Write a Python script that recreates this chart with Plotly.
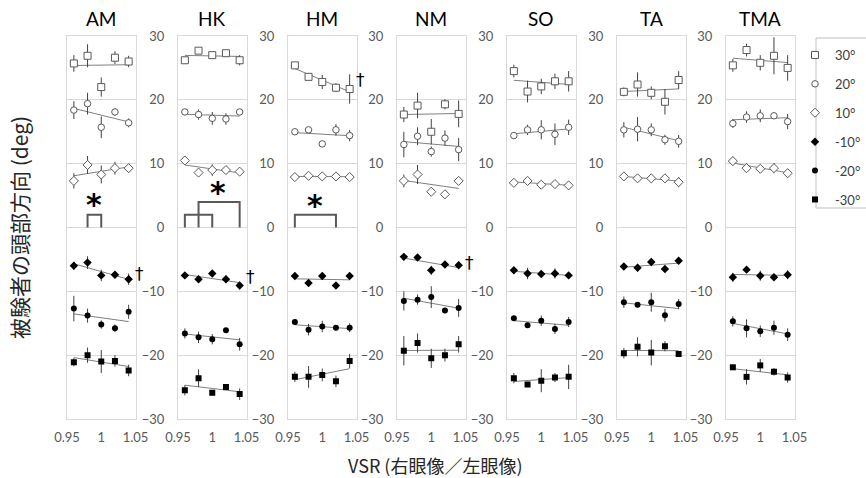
import numpy as np
import plotly.graph_objects as go

# ---------------- data ----------------
VSR = [0.96, 0.98, 1.00, 1.02, 1.04]
PANELS = ["AM", "HK", "HM", "NM", "SO", "TA", "TMA"]
SERIES = ["30°", "20°", "10°", "-10°", "-20°", "-30°"]

AM_MEAN = [[25.7, 26.9, 22.0, 26.6, 26.0], [18.4, 19.4, 15.7, 18.1, 16.4], [7.3, 9.8, 8.3, 9.3, 9.3],
           [-6.0, -5.5, -7.5, -7.4, -8.1], [-12.7, -13.8, -15.2, -15.8, -13.2], [-21.1, -20.0, -21.0, -20.9, -22.4]]
AM_ERR = [[1.3, 1.8, 1.5, 1.0, 0.9], [1.4, 1.7, 1.7, 0.6, 0.7], [1.2, 1.4, 1.4, 1.0, 0.65],
          [0.6, 1.0, 0.9, 0.5, 0.9], [2.0, 1.1, 0.65, 0.6, 1.1], [0.65, 1.2, 1.8, 0.9, 0.9]]

HK_MEAN = [[26.2, 27.7, 27.0, 27.3, 26.2], [18.1, 17.7, 17.1, 17.0, 18.1], [10.5, 8.6, 9.0, 9.0, 8.75],
           [-7.5, -8.1, -7.2, -8.1, -9.1], [-16.6, -17.2, -17.5, -16.1, -18.3], [-25.5, -23.6, -25.9, -25.0, -26.1]]
HK_ERR = [[0.4, 0.3, 0.4, 0.4, 0.8], [0.4, 0.8, 1.0, 0.9, 0.3], [0.3, 0.3, 0.9, 0.4, 0.6],
          [0.4, 0.5, 0.4, 0.6, 0.6], [0.8, 0.9, 0.8, 0.3, 1.0], [0.8, 1.4, 0.4, 0.4, 0.9]]

HM_MEAN = [[25.4, 23.6, 22.8, 21.9, 21.7], [15.0, 15.3, 13.1, 15.3, 14.4], [7.9, 8.1, 8.0, 8.0, 7.9],
           [-7.6, -8.7, -7.6, -9.1, -7.6], [-14.8, -16.0, -15.5, -15.7, -15.7], [-23.4, -23.4, -23.1, -24.1, -20.9]]
HM_ERR = [[0.3, 0.4, 1.1, 0.7, 2.3], [0.3, 0.4, 0.4, 0.9, 0.9], [0.3, 0.4, 0.5, 0.5, 0.5],
          [0.4, 0.3, 0.5, 0.3, 0.5], [0.3, 0.9, 0.9, 0.4, 0.7], [0.8, 1.7, 1.0, 0.9, 1.1]]

NM_MEAN = [[17.7, 19.1, 15.0, 19.3, 17.8], [13.0, 14.3, 11.9, 14.0, 12.2], [7.3, 8.3, 5.6, 5.2, 7.3],
           [-4.6, -4.7, -6.7, -5.8, -5.9], [-11.5, -11.3, -10.9, -13.0, -12.6], [-19.3, -18.1, -20.5, -20.0, -18.3]]
NM_ERR = [[1.2, 2.0, 2.0, 0.8, 2.1], [2.0, 1.4, 0.8, 1.2, 1.8], [1.0, 1.5, 0.3, 0.3, 0.6],
          [0.4, 0.4, 0.7, 0.4, 0.6], [1.5, 0.8, 1.7, 0.4, 1.4], [2.3, 1.5, 1.5, 1.0, 1.3]]

SO_MEAN = [[24.5, 21.3, 22.1, 22.9, 22.9], [14.4, 15.3, 15.3, 14.6, 15.7], [7.0, 7.3, 6.7, 6.8, 6.6],
           [-6.7, -7.2, -7.3, -7.2, -7.5], [-14.2, -15.3, -14.6, -15.9, -14.8], [-23.6, -24.6, -24.0, -23.5, -23.4]]
SO_ERR = [[1.0, 1.7, 1.2, 1.2, 1.6], [0.4, 0.8, 1.5, 1.7, 1.2], [0.6, 0.4, 0.4, 0.4, 0.6],
          [0.4, 0.9, 0.4, 0.8, 0.4], [0.3, 0.3, 0.8, 0.8, 0.8], [0.8, 0.3, 1.8, 0.7, 1.9]]

TA_MEAN = [[21.25, 22.4, 21.1, 19.7, 23.1], [15.3, 15.4, 15.3, 13.75, 13.5], [8.0, 7.7, 7.7, 7.7, 7.1],
           [-6.1, -6.3, -5.4, -6.5, -5.2], [-11.7, -12.1, -11.7, -13.75, -12.0], [-19.7, -18.7, -19.6, -18.6, -19.8]]
TA_ERR = [[0.7, 1.9, 1.0, 2.0, 1.4], [1.2, 1.9, 1.0, 0.8, 1.0], [0.3, 0.3, 0.5, 0.3, 0.8],
          [0.4, 0.6, 0.5, 0.5, 0.4], [0.9, 0.3, 1.5, 1.0, 0.8], [0.8, 1.5, 2.0, 0.8, 0.3]]

TMA_MEAN = [[25.4, 27.8, 25.8, 26.9, 25.0], [16.3, 17.3, 17.5, 17.5, 16.6], [10.4, 9.3, 9.2, 9.3, 8.5],
            [-7.8, -6.6, -7.55, -7.8, -7.4], [-14.7, -15.8, -16.25, -15.7, -16.8], [-21.9, -23.4, -21.6, -22.6, -23.5]]
TMA_ERR = [[1.0, 1.0, 1.2, 2.9, 2.0], [0.7, 0.9, 1.0, 0.4, 1.2], [0.7, 0.7, 0.4, 0.8, 0.7],
           [0.7, 0.3, 0.8, 0.3, 0.7], [0.8, 1.4, 0.9, 1.1, 1.0], [0.4, 1.2, 1.0, 0.6, 0.8]]

MEANS = [AM_MEAN, HK_MEAN, HM_MEAN, NM_MEAN, SO_MEAN, TA_MEAN, TMA_MEAN]
ERRS = [AM_ERR, HK_ERR, HM_ERR, NM_ERR, SO_ERR, TA_ERR, TMA_ERR]

X_TICKS = [0.95, 1.0, 1.05]
X_TICK_TEXT = ["0.95", "1", "1.05"]
Y_TICKS = [-30, -20, -10, 0, 10, 20, 30]

# significance brackets: (panel index, x start, x end, height)
BRACKETS = [(0, 0.98, 1.00, 2), (1, 0.96, 1.00, 2), (1, 0.98, 1.04, 4), (2, 0.96, 1.02, 2)]
# asterisks: (panel index, x, y)
STARS = [(0, 0.99, 3.6), (1, 1.008, 5.5), (2, 0.99, 3.4)]
# daggers: (panel index, y)
DAGGERS = [(0, -7.3), (1, -7.8), (2, 23.1), (3, -5.6)]

# ---------------- style ----------------
W, H = 866, 478
PANEL_LEFT = [67, 178, 288, 397, 507, 617, 726]
PANEL_W = 68.5
Y_TOP, Y_BOT = 36, 419
MARKERS = [
    dict(symbol="square", color="white", size=7, line=dict(color="#595959", width=1)),
    dict(symbol="circle", color="white", size=6.5, line=dict(color="#595959", width=1)),
    dict(symbol="diamond", color="white", size=7, line=dict(color="#595959", width=1)),
    dict(symbol="diamond", color="black", size=6.5, line=dict(color="black", width=0)),
    dict(symbol="circle", color="black", size=6, line=dict(color="black", width=0)),
    dict(symbol="square", color="black", size=6, line=dict(color="black", width=0)),
]
TICK_FONT = dict(family="Lato, Liberation Sans, sans-serif", size=13, color="#595959")

fig = go.Figure()
layout = {}
annotations = []

for p, name in enumerate(PANELS):
    sfx = "" if p == 0 else str(p + 1)
    xa, ya = "x" + sfx, "y" + sfx
    # trend lines
    for s, lab in enumerate(SERIES):
        k, b = np.polyfit(VSR, MEANS[p][s], 1)
        xs = np.array([VSR[0], VSR[-1]])
        fig.add_trace(go.Scatter(x=xs, y=k * xs + b, mode="lines", line=dict(color="#808080", width=1),
                                 showlegend=False, legendgroup=lab, hoverinfo="skip", xaxis=xa, yaxis=ya))
    # brackets
    for (bp, x0, x1, h) in BRACKETS:
        if bp == p:
            fig.add_trace(go.Scatter(x=[x0, x0, x1, x1], y=[0, h, h, 0], mode="lines",
                                     line=dict(color="#595959", width=2), showlegend=False,
                                     legendgroup=SERIES[-1], hoverinfo="skip", xaxis=xa, yaxis=ya))
    # markers
    for s, lab in enumerate(SERIES):
        fig.add_trace(go.Scatter(
            x=VSR, y=MEANS[p][s], mode="markers", name=lab, legendgroup=lab,
            showlegend=(p == 0), marker=MARKERS[s],
            error_y=dict(type="data", array=ERRS[p][s], visible=True, thickness=1, width=0, color="#404040"),
            xaxis=xa, yaxis=ya))

    left = PANEL_LEFT[p] / W
    right = (PANEL_LEFT[p] + PANEL_W) / W
    layout["xaxis" + sfx] = dict(domain=[left, right], range=[0.95, 1.05], tickvals=X_TICKS,
                                 ticktext=X_TICK_TEXT, showgrid=False, zeroline=False, showline=True,
                                 mirror=True, linecolor="#d9d9d9", linewidth=1, ticks="",
                                 tickfont=TICK_FONT, anchor=ya, ticklabelstandoff=6, fixedrange=True,
                                 automargin=False)
    layout["yaxis" + sfx] = dict(domain=[1 - Y_BOT / H, 1 - Y_TOP / H], range=[-30, 30], tickvals=Y_TICKS,
                                 showgrid=True, gridcolor="#d9d9d9", gridwidth=1, zeroline=False,
                                 showline=True, mirror=True, linecolor="#d9d9d9", linewidth=1, ticks="",
                                 showticklabels=(p > 0), tickfont=TICK_FONT, anchor=xa,
                                 ticklabelstandoff=10, fixedrange=True, automargin=False)
    annotations.append(dict(text=name, x=(left + right) / 2, y=1 - 18 / H, xref="paper", yref="paper",
                            showarrow=False, xanchor="center", yanchor="middle",
                            font=dict(family="Lato, Liberation Sans, sans-serif", size=19, color="black")))

for (sp, sx, sy) in STARS:
    sfx = "" if sp == 0 else str(sp + 1)
    annotations.append(dict(text="<b>*</b>", x=sx, y=sy, xref="x" + sfx, yref="y" + sfx, showarrow=False,
                            xanchor="center", yanchor="middle",
                            font=dict(family="DejaVu Sans", size=30, color="black")))
for (dp, dy) in DAGGERS:
    sfx = "" if dp == 0 else str(dp + 1)
    annotations.append(dict(text="†", x=1.06, y=dy, xref="x" + sfx + " domain", yref="y" + sfx,
                            showarrow=False, xanchor="center", yanchor="middle",
                            font=dict(family="DejaVu Sans", size=17, color="black")))

annotations.append(dict(text="被験者の頭部方向 (deg)", x=19 / W, y=1 - 228 / H, xref="paper", yref="paper",
                        showarrow=False, textangle=-90, xanchor="center", yanchor="middle",
                        font=dict(family="Noto Sans CJK JP", size=21, color="#262626")))
annotations.append(dict(text="VSR (右眼像／左眼像)", x=435 / W, y=1 - 465 / H, xref="paper", yref="paper",
                        showarrow=False, xanchor="center", yanchor="middle",
                        font=dict(family="Noto Sans CJK JP", size=18, color="#262626")))

fig.update_layout(
    width=W, height=H, margin=dict(l=0, r=0, t=0, b=0, autoexpand=False),
    paper_bgcolor="white", plot_bgcolor="white",
    annotations=annotations,
    shapes=[dict(type="rect", xref="paper", yref="paper", x0=816 / W, x1=1.02, y0=1 - 208 / H, y1=1 - 38 / H,
                 line=dict(color="#bfbfbf", width=1), fillcolor="rgba(0,0,0,0)", layer="below")],
    legend=dict(x=1.0, y=1 - 40 / H, xanchor="right", yanchor="top", borderwidth=0,
                font=dict(family="Lato, Liberation Sans, sans-serif", size=13, color="#404040"),
                traceorder="grouped", tracegroupgap=9, itemwidth=30, bgcolor="rgba(0,0,0,0)"),
    **layout,
)

fig.write_html("out.html", config={"displayModeBar": False},
               post_script="document.body.style.margin='0';document.body.style.overflow='hidden';")
